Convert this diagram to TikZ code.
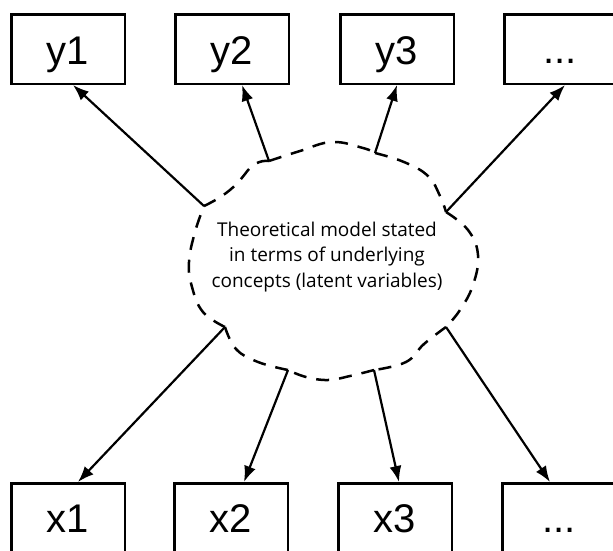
\documentclass[tikz,border=0pt]{standalone}
\usepackage{fontspec}
\setmainfont{Liberation Sans}
\newfontfamily\cloudfont{Open Sans}
\usetikzlibrary{arrows.meta}
\tikzset{
  obsbox/.style={draw, line width=2.5pt, minimum width=113.5pt, minimum height=69.5pt, inner sep=0pt},
  boxlabel/.style={anchor=base, inner sep=0pt, font=\fontsize{40}{42}\selectfont},
  arr/.style={line width=2.2pt, -{Latex[length=16pt,width=12pt]}},
  cloudline/.style={line width=2.5pt, dash pattern=on 13pt off 10pt}
}
\begin{document}
\begin{tikzpicture}[x=1pt, y=-1pt]
\useasboundingbox (0,0) rectangle (613,550);
\clip (0,0) rectangle (613,550);
% top boxes
\node[obsbox] (y1) at (68,49) {};
\node[obsbox] (y2) at (232,49) {};
\node[obsbox] (y3) at (397,49) {};
\node[obsbox] (y4) at (561,49) {};
\node[boxlabel] (ty1) at (68,64) {y1};
\node[boxlabel] (ty2) at (232,64) {y2};
\node[boxlabel] (ty3) at (397,64) {y3};
\node[boxlabel] (ty4) at (560,63) {...};
% bottom boxes
\node[obsbox] (x1) at (68,518) {};
\node[obsbox] (x2) at (231,518) {};
\node[obsbox] (x3) at (395,518) {};
\node[obsbox] (x4) at (559,518) {};
\node[boxlabel] (tx1) at (68,532) {x1};
\node[boxlabel] (tx2) at (231,532) {x2};
\node[boxlabel] (tx3) at (395,532) {x3};
\node[boxlabel] (tx4) at (559,532) {...};
% cloud cusps
\coordinate (cA) at (204,206);
\coordinate (cB) at (269,161);
\coordinate (cC) at (375,153);
\coordinate (cD) at (446,212);
\coordinate (cE) at (446,327);
\coordinate (cF) at (374,370);
\coordinate (cG) at (288,370);
\coordinate (cH) at (225,327);
% cloud outline
\draw[cloudline] (cA) .. controls (225,196) and (236,186) .. (245,174) .. controls (252,164) and (260,160) .. (cB);
\draw[cloudline] plot[smooth, tension=0.7] coordinates {(269,161) (300,151) (332,142) (363,148) (375,153)};
\draw[cloudline] plot[smooth, tension=0.7] coordinates {(375,153) (404,162) (428,176) (440,196) (446,212)};
\draw[cloudline] plot[smooth, tension=0.7] coordinates {(446,212) (468,230) (478,255) (473,285) (460,310) (446,327)};
\draw[cloudline] plot[smooth, tension=0.7] coordinates {(446,327) (424,344) (406,362) (374,370)};
\draw[cloudline] plot[smooth, tension=0.7] coordinates {(374,370) (350,376) (328,380) (306,377) (288,370)};
\draw[cloudline] plot[smooth, tension=0.7] coordinates {(288,370) (258,362) (236,349) (225,327)};
\draw[cloudline] plot[smooth, tension=0.7] coordinates {(225,327) (203,312) (192,287) (189,262) (195,232) (204,206)};
% cloud text
\node[align=center, inner sep=0pt, font=\cloudfont\fontsize{19}{25.5}\selectfont] (model) at (327,257)
  {Theoretical model stated\\in terms of underlying\\concepts (latent variables)};
% arrows up
\draw[arr] (cA) -- ([xshift=5pt]y1.south);
\draw[arr] (cB) -- ([xshift=10pt]y2.south);
\draw[arr] (cC) -- (y3.south);
\draw[arr] (cD) -- ([xshift=4pt]y4.south);
% arrows down
\draw[arr] (cH) -- ([xshift=10pt]x1.north);
\draw[arr] (cG) -- ([xshift=13pt]x2.north);
\draw[arr] (cF) -- ([xshift=4pt]x3.north);
\draw[arr] (cE) -- ([xshift=-9pt]x4.north);
\end{tikzpicture}
\end{document}
